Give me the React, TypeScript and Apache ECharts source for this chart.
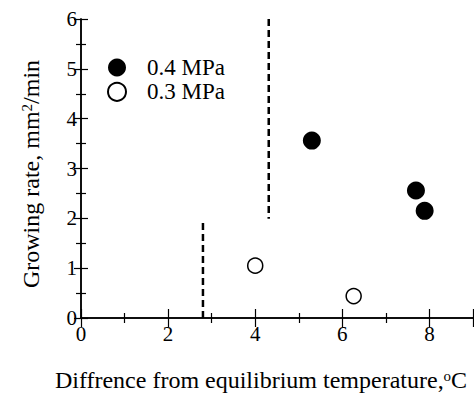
import React, { useEffect, useRef } from "react";
import * as echarts from "echarts";

const series04Name = "0.4 MPa";
const series03Name = "0.3 MPa";
const points04: [number, number][] = [
  [5.3, 3.56],
  [7.69, 2.56],
  [7.89, 2.15],
];
const points03: [number, number][] = [
  [4.0, 1.05],
  [6.26, 0.44],
];
const dashLine1: [number, number][] = [
  [4.31, 6],
  [4.31, 1.99],
];
const dashLine2: [number, number][] = [
  [2.8, 0],
  [2.8, 1.97],
];
const xMin = 0, xMax = 9, xInterval = 2;
const yMin = 0, yMax = 6, yInterval = 1;

const FONT = "Liberation Serif";

export default function App() {
  const ref = useRef<HTMLDivElement>(null);
  useEffect(() => {
    if (!ref.current) return;
    const chart = echarts.init(ref.current, undefined, { renderer: "svg" });
    const axisLine = { show: true, lineStyle: { color: "#000", width: 1.5 } };
    const xTick = { show: true, inside: true, length: 9, lineStyle: { color: "#000", width: 1.2 } };
    const xMinor = { show: true, splitNumber: 2, length: 5, lineStyle: { color: "#000", width: 1.2 } };
    const yTick = { show: true, inside: true, length: 7, lineStyle: { color: "#000", width: 1.2 } };
    const yMinor = { show: true, splitNumber: 2, length: 5, lineStyle: { color: "#000", width: 1.2 } };
    const dashStyle = { color: "#000", width: 2.5, type: [7, 4] as any };
    chart.setOption({
      animation: false,
      backgroundColor: "#fff",
      textStyle: { fontFamily: FONT },
      grid: { left: 81, right: 1, top: 19, bottom: 76 },
      xAxis: [
        {
          type: "value", min: xMin, max: xMax, interval: xInterval, position: "bottom",
          axisLine, axisTick: xTick, minorTick: xMinor, splitLine: { show: false },
          axisLabel: { show: true, showMaxLabel: false, margin: 5, color: "#000", fontSize: 21, fontFamily: FONT },
        },
        {
          type: "value", min: xMin, max: xMax, interval: xInterval, position: "top",
          axisLine, axisTick: xTick, minorTick: xMinor, splitLine: { show: false },
          axisLabel: { show: false },
        },
      ],
      yAxis: [
        {
          type: "value", min: yMin, max: yMax, interval: yInterval, position: "left",
          axisLine, axisTick: yTick, minorTick: yMinor, splitLine: { show: false },
          axisLabel: { show: true, margin: 4, color: "#000", fontSize: 21, fontFamily: FONT },
        },
        {
          type: "value", min: yMin, max: yMax, interval: yInterval, position: "right",
          axisLine, axisTick: yTick, minorTick: yMinor, splitLine: { show: false },
          axisLabel: { show: false },
        },
      ],
      legend: {
        data: [series04Name, series03Name],
        orient: "vertical",
        left: 107,
        top: 56,
        padding: 0,
        itemWidth: 50,
        itemHeight: 18,
        itemGap: 1.3,
        textStyle: { color: "#000", fontSize: 23, fontFamily: FONT },
      },
      series: [
        {
          name: series04Name, type: "scatter", data: points04, symbol: "circle", symbolSize: 18,
          itemStyle: { color: "#000", opacity: 1 }, z: 5,
        },
        {
          name: series03Name, type: "scatter", data: points03, symbol: "circle", symbolSize: 15,
          itemStyle: { color: "#fff", borderColor: "#000", borderWidth: 1.5, opacity: 1 }, z: 5,
        },
        {
          name: "dash1", type: "line", data: dashLine1, symbol: "none", lineStyle: dashStyle, z: 3,
        },
        {
          name: "dash2", type: "line", data: dashLine2, symbol: "none", lineStyle: dashStyle, z: 3,
        },
      ],
      graphic: [
        {
          type: "text",
          x: 261, y: 380,
          style: {
            text: "Diffrence from equilibrium temperature,{sup|o}C",
            fontSize: 24,
            fontFamily: FONT,
            fill: "#000000",
            align: "center",
            verticalAlign: "middle",
            rich: {
              sup: { fontSize: 15, fontFamily: FONT, fill: "#000000", verticalAlign: "top", padding: [0, 0, 9, 0] },
            },
          },
        },
        {
          type: "text",
          x: 31, y: 174,
          rotation: Math.PI / 2,
          style: {
            text: "Growing rate, mm{sup|2}/min",
            fontSize: 24,
            fontFamily: FONT,
            fill: "#000000",
            align: "center",
            verticalAlign: "middle",
            rich: {
              sup: { fontSize: 15, fontFamily: FONT, fill: "#000000", verticalAlign: "top", padding: [0, 0, 9, 0] },
            },
          },
        },
      ],
    });
    return () => chart.dispose();
  }, []);
  return <div ref={ref} style={{ position: "fixed", left: 0, top: 0, width: 474, height: 394 }} />;
}
